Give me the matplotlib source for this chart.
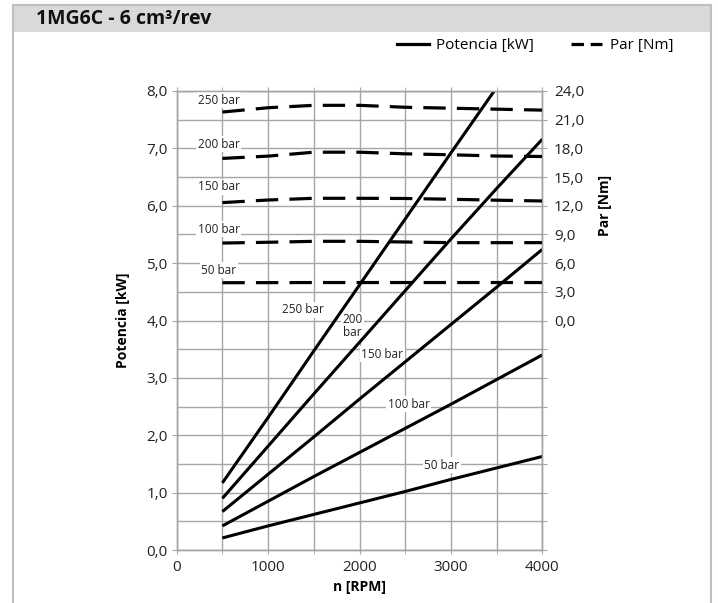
import matplotlib
matplotlib.use("Agg")
import matplotlib.pyplot as plt
from matplotlib.lines import Line2D
from matplotlib.patches import Rectangle
from matplotlib.ticker import MultipleLocator, FuncFormatter

plt.rcParams['font.family'] = ['Open Sans', 'DejaVu Sans']

rpm = [500, 1000, 1500, 2000, 2500, 3000, 3500, 4000]
pressures = ["50 bar", "100 bar", "150 bar", "200 bar", "250 bar"]

power_50 = [0.21, 0.42, 0.62, 0.82, 1.02, 1.23, 1.43, 1.63]
power_100 = [0.42, 0.85, 1.28, 1.70, 2.12, 2.54, 2.97, 3.40]
power_150 = [0.67, 1.32, 1.97, 2.63, 3.28, 3.93, 4.58, 5.24]
power_200 = [0.90, 1.81, 2.72, 3.62, 4.52, 5.42, 6.30, 7.16]
power_250 = [1.17, 2.31, 3.47, 4.62, 5.77, 6.92, 8.06, 9.20]

torque_50 = [3.95, 3.96, 3.97, 3.97, 3.97, 3.97, 3.97, 3.97]
torque_100 = [8.10, 8.18, 8.28, 8.28, 8.21, 8.14, 8.14, 8.14]
torque_150 = [12.33, 12.60, 12.78, 12.78, 12.76, 12.68, 12.58, 12.50]
torque_200 = [16.95, 17.19, 17.60, 17.60, 17.43, 17.33, 17.20, 17.15]
torque_250 = [21.80, 22.25, 22.50, 22.50, 22.30, 22.20, 22.10, 22.00]

power_series = [power_50, power_100, power_150, power_200, power_250]
torque_series = [torque_50, torque_100, torque_150, torque_200, torque_250]

# label anchors (RPM, kW on the left axis)
power_label_pos = [(2900, 1.48), (2540, 2.54), (2250, 3.41), (1920, 3.90), (1380, 4.19)]
power_label_text = ["50 bar", "100 bar", "150 bar", "200\nbar", "250 bar"]
torque_label_pos = [(460, 4.88), (460, 5.59), (460, 6.33), (460, 7.07), (460, 7.84)]

grid_c = '#a6a6a6'

fig = plt.figure(figsize=(7.18, 6.03), dpi=100)

# frame and title band
fig.patches.append(Rectangle((13/718, 1-32/603), (711-13)/718, 27/603,
                             transform=fig.transFigure, facecolor='#d9d9d9',
                             edgecolor='none', zorder=0))
fig.add_artist(Line2D([13/718, 13/718], [0, 1-5/603], transform=fig.transFigure, color='#bfbfbf', lw=1.5))
fig.add_artist(Line2D([711/718, 711/718], [0, 1-5/603], transform=fig.transFigure, color='#bfbfbf', lw=1.5))
fig.add_artist(Line2D([13/718, 711/718], [1-5/603, 1-5/603], transform=fig.transFigure, color='#bfbfbf', lw=1.5))
fig.text(36/718, 1-19/603, "1MG6C - 6 cm³/rev", fontsize=14, fontweight='bold',
         va='center', ha='left', color='#111111')

ax = fig.add_axes([176.7/718, 1-550/603, (542.3-176.7)/718, (550-91)/603])
ax.set_xlim(0, 4000)
ax.set_ylim(0, 8)
ax2 = ax.twinx()
ax2.set_ylim(-24, 24)

for s in list(ax.spines.values()) + list(ax2.spines.values()):
    s.set_color(grid_c)
    s.set_linewidth(1.0)

ax.xaxis.set_major_locator(MultipleLocator(1000))
ax.xaxis.set_minor_locator(MultipleLocator(500))
ax.yaxis.set_major_locator(MultipleLocator(1))
ax.yaxis.set_minor_locator(MultipleLocator(0.5))
ax.yaxis.set_major_formatter(FuncFormatter(lambda v, p: f"{v:.1f}".replace('.', ',')))
ax.grid(True, which='both', color=grid_c, linewidth=1.0)
ax.set_axisbelow(True)
ax.tick_params(axis='y', which='major', length=3.5, color=grid_c, labelsize=11, labelcolor='#222222', pad=3)
ax.tick_params(axis='y', which='minor', length=0)
ax.tick_params(axis='x', which='major', length=3, color=grid_c, labelsize=11, labelcolor='#222222', pad=4, top=True)
ax.tick_params(axis='x', which='minor', length=3, color=grid_c, top=True)

ax2.yaxis.set_major_locator(MultipleLocator(3))
ax2.yaxis.set_major_formatter(FuncFormatter(lambda v, p: f"{v:.1f}".replace('.', ',') if v >= -0.01 else ""))
ax2.tick_params(axis='y', length=3.5, color=grid_c, labelsize=11, labelcolor='#222222', pad=5)

ax.set_xlabel("n [RPM]", fontsize=10, fontweight='bold')
ax.set_ylabel("Potencia [kW]", fontsize=10, fontweight='bold')
ax.yaxis.set_label_coords(-0.128, 0.5)
ax.xaxis.set_label_coords(0.5, -0.066)
ax2.set_ylabel("Par [Nm]", fontsize=10, fontweight='bold')
ax2.yaxis.set_label_coords(1.152, 0.75)

bbox = dict(facecolor='white', edgecolor='none', pad=1.0)
for vals in power_series:
    ax.plot(rpm, vals, color='black', lw=2.2, solid_capstyle='butt', zorder=4)
for vals in torque_series:
    ax2.plot(rpm, vals, color='black', lw=2.3, dashes=(7, 3.5), zorder=4)

for (x, y), t in zip(power_label_pos, power_label_text):
    ax.text(x, y, t, fontsize=8.5, ha='center', va='center', color='#222222',
            bbox=bbox, zorder=3, linespacing=1.0)
for (x, y), t in zip(torque_label_pos, pressures):
    ax.text(x, y, t, fontsize=8.5, ha='center', va='center', color='#222222',
            bbox=bbox, zorder=3)

handles = [Line2D([], [], color='black', lw=2.3),
           Line2D([], [], color='black', lw=2.3, dashes=(3.9, 2.1))]
fig.legend(handles, ["Potencia [kW]", "Par [Nm]"], loc='center right',
           bbox_to_anchor=(687/718, 1-46/603), ncol=2, frameon=False,
           fontsize=11, handlelength=2.05, handletextpad=0.5, columnspacing=2.4)

fig.savefig("out.png", dpi=100)
